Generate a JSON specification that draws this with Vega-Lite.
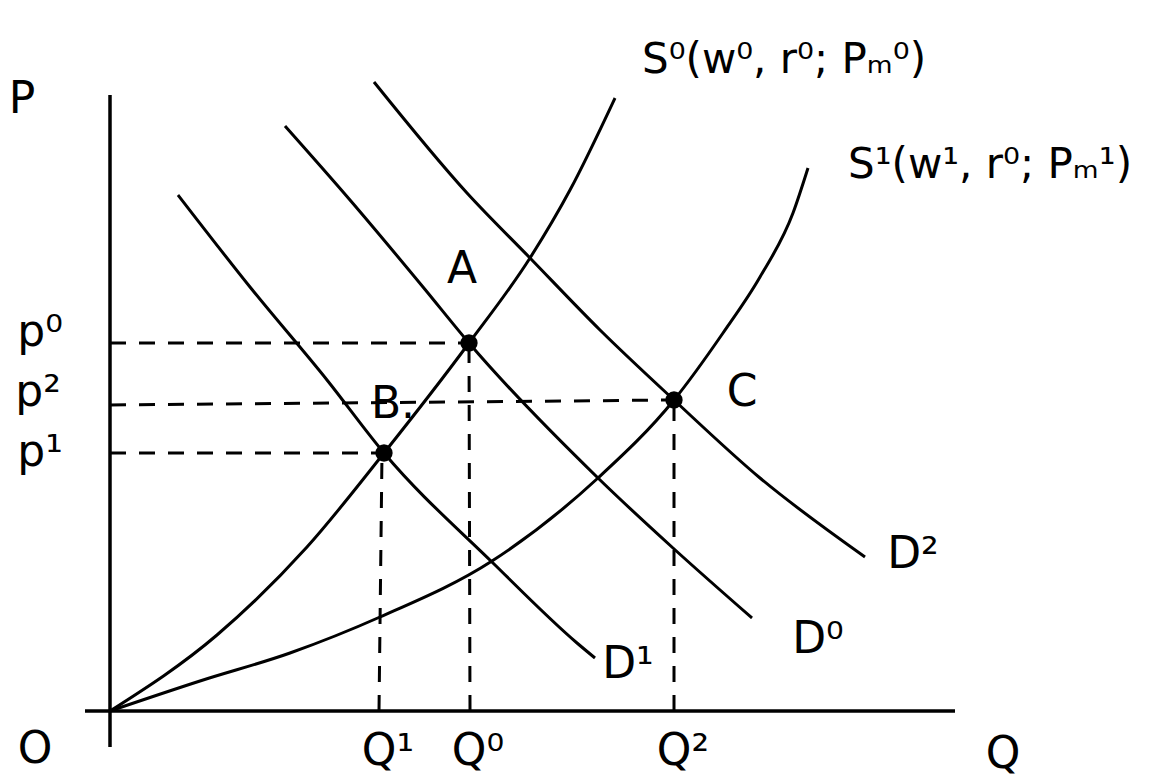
{
 "$schema": "https://vega.github.io/schema/vega-lite/v6.json",
 "width": 1152, "height": 781,
 "autosize": {"type": "fit", "contains": "padding"},
 "padding": 0,
 "background": "white",
 "config": {"view": {"stroke": null}},
 "datasets": {
  "axes": [
   {"name": "P axis", "q": 0, "p": -3.6, "q2": 0, "p2": 61.6},
   {"name": "Q axis", "q": -2.5, "p": 0, "q2": 84.5, "p2": 0}
  ],
  "guides": [
   {"name": "p0", "q": 0, "p": 36.8, "q2": 35.9, "p2": 36.8},
   {"name": "p2", "q": 0, "p": 30.6, "q2": 56.4, "p2": 31.1},
   {"name": "p1", "q": 0, "p": 25.8, "q2": 27.4, "p2": 25.8},
   {"name": "Q1", "q": 26.9, "p": 0, "q2": 27.2, "p2": 25.8},
   {"name": "Q0", "q": 36.0, "p": 0, "q2": 35.9, "p2": 36.8},
   {"name": "Q2", "q": 56.4, "p": 0, "q2": 56.4, "p2": 31.1}
  ],
  "curves": [
   {"curve": "S0", "q": 0, "p": 0}, {"curve": "S0", "q": 10.7, "p": 7.6}, {"curve": "S0", "q": 19.7, "p": 16.4},
   {"curve": "S0", "q": 27.4, "p": 25.8}, {"curve": "S0", "q": 35.9, "p": 36.8}, {"curve": "S0", "q": 42, "p": 45.3},
   {"curve": "S0", "q": 46, "p": 52.1}, {"curve": "S0", "q": 50.5, "p": 61.3},
   {"curve": "S1", "q": 0, "p": 0}, {"curve": "S1", "q": 9, "p": 3.0}, {"curve": "S1", "q": 18, "p": 5.8},
   {"curve": "S1", "q": 27, "p": 9.4}, {"curve": "S1", "q": 38.2, "p": 15}, {"curve": "S1", "q": 48.8, "p": 23.3},
   {"curve": "S1", "q": 56.4, "p": 31.1}, {"curve": "S1", "q": 61.3, "p": 37.8}, {"curve": "S1", "q": 65, "p": 43.4},
   {"curve": "S1", "q": 68.3, "p": 49.8}, {"curve": "S1", "q": 69.8, "p": 54.3},
   {"curve": "D1", "q": 6.8, "p": 51.6}, {"curve": "D1", "q": 14, "p": 42.4}, {"curve": "D1", "q": 21.7, "p": 33.1},
   {"curve": "D1", "q": 27.4, "p": 25.8}, {"curve": "D1", "q": 38.3, "p": 14.8}, {"curve": "D1", "q": 46.7, "p": 6.8},
   {"curve": "D1", "q": 48.5, "p": 5.3},
   {"curve": "D0", "q": 17.5, "p": 58.5}, {"curve": "D0", "q": 24, "p": 51.1}, {"curve": "D0", "q": 31.3, "p": 42.4},
   {"curve": "D0", "q": 35.9, "p": 36.8}, {"curve": "D0", "q": 48.8, "p": 23.3}, {"curve": "D0", "q": 56.3, "p": 16.3},
   {"curve": "D0", "q": 64.2, "p": 9.3},
   {"curve": "D2", "q": 26.4, "p": 62.9}, {"curve": "D2", "q": 35.7, "p": 51.8}, {"curve": "D2", "q": 42, "p": 45.3},
   {"curve": "D2", "q": 49, "p": 38.1}, {"curve": "D2", "q": 56.4, "p": 31.1}, {"curve": "D2", "q": 65, "p": 23.3},
   {"curve": "D2", "q": 75.5, "p": 15.4}
  ],
  "points": [
   {"name": "A", "q": 35.9, "p": 36.8},
   {"name": "B", "q": 27.4, "p": 25.8},
   {"name": "C", "q": 56.4, "p": 31.1}
  ],
  "labels": [
   {"label": "P", "q": -8.8, "p": 61.1},
   {"label": "p⁰", "q": -7, "p": 37.8},
   {"label": "p²", "q": -7.2, "p": 31.8},
   {"label": "p¹", "q": -7, "p": 25.8},
   {"label": "A", "q": 35.2, "p": 44.1},
   {"label": "B.", "q": 28.3, "p": 30.6},
   {"label": "C", "q": 63.2, "p": 31.8},
   {"label": "D¹", "q": 51.8, "p": 4.6},
   {"label": "D⁰", "q": 70.8, "p": 7.1},
   {"label": "D²", "q": 80.3, "p": 15.6},
   {"label": "O", "q": -7.5, "p": -3.9},
   {"label": "Q¹", "q": 27.8, "p": -4.1},
   {"label": "Q⁰", "q": 36.8, "p": -4.1},
   {"label": "Q²", "q": 57.3, "p": -4.1},
   {"label": "Q", "q": 89.3, "p": -4.4}
  ],
  "curveLabels": [
   {"label": "S⁰(w⁰, r⁰; Pₘ⁰)", "q": 53.2, "p": 65.1},
   {"label": "S¹(w¹, r⁰; Pₘ¹)", "q": 73.8, "p": 54.6}
  ]
 },
 "layer": [
  {
   "data": {"name": "axes"},
   "mark": {"type": "rule", "color": "black", "strokeWidth": 3.5},
   "encoding": {
    "x": {"field": "q", "type": "quantitative", "scale": {"domain": [-11, 104.2], "nice": false, "zero": false}, "axis": null},
    "y": {"field": "p", "type": "quantitative", "scale": {"domain": [-7, 71.1], "nice": false, "zero": false}, "axis": null},
    "x2": {"field": "q2"},
    "y2": {"field": "p2"}
   }
  },
  {
   "data": {"name": "guides"},
   "mark": {"type": "rule", "color": "black", "strokeWidth": 3, "strokeDash": [16, 13]},
   "encoding": {
    "x": {"field": "q", "type": "quantitative", "scale": {"domain": [-11, 104.2], "nice": false, "zero": false}, "axis": null},
    "y": {"field": "p", "type": "quantitative", "scale": {"domain": [-7, 71.1], "nice": false, "zero": false}, "axis": null},
    "x2": {"field": "q2"},
    "y2": {"field": "p2"}
   }
  },
  {
   "data": {"name": "curves"},
   "mark": {"type": "line", "color": "black", "strokeWidth": 3, "interpolate": "monotone"},
   "encoding": {
    "x": {"field": "q", "type": "quantitative", "scale": {"domain": [-11, 104.2], "nice": false, "zero": false}, "axis": null},
    "y": {"field": "p", "type": "quantitative", "scale": {"domain": [-7, 71.1], "nice": false, "zero": false}, "axis": null},
    "detail": {"field": "curve", "type": "nominal"}
   }
  },
  {
   "data": {"name": "points"},
   "mark": {"type": "point", "filled": true, "color": "black", "opacity": 1, "size": 300},
   "encoding": {
    "x": {"field": "q", "type": "quantitative", "scale": {"domain": [-11, 104.2], "nice": false, "zero": false}, "axis": null},
    "y": {"field": "p", "type": "quantitative", "scale": {"domain": [-7, 71.1], "nice": false, "zero": false}, "axis": null}
   }
  },
  {
   "data": {"name": "labels"},
   "mark": {"type": "text", "color": "black", "font": "DejaVu Sans", "fontSize": 44, "fontWeight": "normal", "align": "center", "baseline": "middle"},
   "encoding": {
    "x": {"field": "q", "type": "quantitative", "scale": {"domain": [-11, 104.2], "nice": false, "zero": false}, "axis": null},
    "y": {"field": "p", "type": "quantitative", "scale": {"domain": [-7, 71.1], "nice": false, "zero": false}, "axis": null},
    "text": {"field": "label", "type": "nominal"}
   }
  },
  {
   "data": {"name": "curveLabels"},
   "mark": {"type": "text", "color": "black", "font": "DejaVu Sans", "fontSize": 42, "align": "left", "baseline": "middle"},
   "encoding": {
    "x": {"field": "q", "type": "quantitative", "scale": {"domain": [-11, 104.2], "nice": false, "zero": false}, "axis": null},
    "y": {"field": "p", "type": "quantitative", "scale": {"domain": [-7, 71.1], "nice": false, "zero": false}, "axis": null},
    "text": {"field": "label", "type": "nominal"}
   }
  }
 ]
}
